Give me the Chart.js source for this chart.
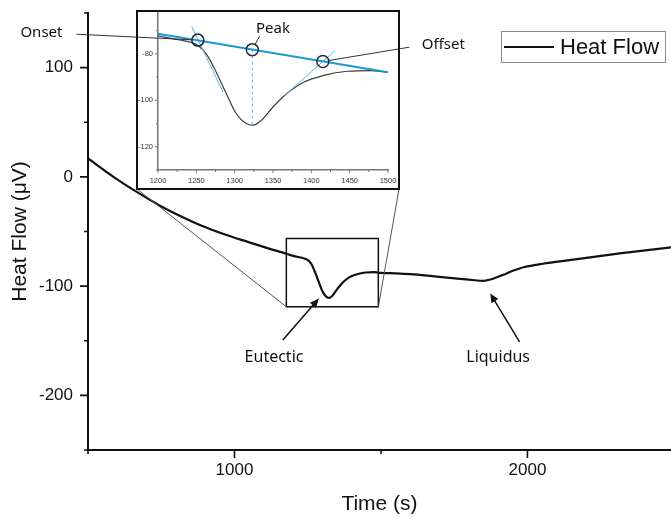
<!DOCTYPE html>
<html>
<head>
<meta charset="utf-8">
<script src="https://cdn.jsdelivr.net/npm/chart.js@4.4.0/dist/chart.umd.min.js"></script>
<style>
  body { margin: 0; background: #fff; }
  #wrap { position: relative; width: 671px; height: 517px; }
  #main { position: absolute; left: 0; top: 0; }
  #inset { position: absolute; left: 136px; top: 10px; background: #fff; }
</style>
</head>
<body>
<div id="wrap">
  <canvas id="main" width="671" height="517"></canvas>
  <canvas id="inset" width="264" height="180"></canvas>
</div>
<script>
// DSC trace, values
const timeS = [500, 560, 620, 680, 760, 820, 890, 960, 1045, 1110, 1177, 1200, 1233, 1244, 1252, 1263, 1276, 1289, 1302, 1315, 1324, 1335, 1350, 1368, 1390, 1416, 1447, 1477, 1500, 1550, 1600, 1690, 1770, 1820, 1847, 1880, 1918, 1950, 1990, 2053, 2143, 2315, 2490];
const heatFlow = [17, 5, -6, -16, -28.5, -36.5, -45, -52, -59.5, -65, -70.3, -72.3, -74.3, -75.2, -76.4, -80, -87.9, -97.1, -105.7, -110, -110.7, -108.6, -102.9, -97.1, -92.2, -89.3, -87.5, -87.2, -87.9, -88.3, -89, -91.3, -93.3, -94.6, -95.2, -93.5, -89.5, -86, -82.5, -79.5, -76.2, -70.1, -64.6];

// main axis ticks
const xMajor = [1000, 2000];
const xMinor = [500, 1500];
const yMajor = [-200, -100, 0, 100];
const yMinor = [-250, -150, -50, 50, 150];

// inset axis ticks
const xMajorIn = [1200, 1250, 1300, 1350, 1400, 1450, 1500];
const xMinorIn = [1225, 1275, 1325, 1375, 1425, 1475];
const yMajorIn = [-120, -100, -80];
const yMinorIn = [-130, -110, -90, -70];

// construction lines in the inset
const baseT = [1200, 1500], baseV = [-71.4, -87.9];
const onsetTanT = [1244, 1285], onsetTanV = [-68.3, -96.5];
const offsetTanT = [1365, 1431], offsetTanV = [-98, -78.6];
const peakT = [1323, 1323], peakV = [-78.2, -110.7];
const markT = [1252, 1323, 1415], markV = [-74.1, -78.2, -83.3];

// zoom box on the main plot
const zoomT = [1177, 1491], zoomV = [-56.4, -118.9];

// annotations
const noteText = ['Eutectic', 'Liquidus'];
const noteAt = [[1135, -165], [1900, -165]];
const arrowFrom = [[1165, -149.4], [1973, -151]];
const arrowTo = [[1288, -111.3], [1873, -106.7]];
const calloutText = ['Onset', 'Offset'];
const calloutAt = [[341, 131.5], [1713, 121.4]];
const calloutFrom = [[460, 130.6], [1597, 118.7]];
const calloutMark = [0, 2];
const peakLabelAt = [1350, -69];
const peakLeadTo = [1332.5, -72.4];

const ink = '#111';
const blue = '#1b98d5';
const thinBlue = '#58b5e5';
const markR = 6;
const noteFont = '"Noto Sans", sans-serif';

Chart.defaults.font.family = '"Liberation Sans", Arial, sans-serif';

const pts = (xs, ys) => xs.map((v, i) => ({ x: v, y: ys[i] }));

let mainChart, insetChart;

function drawTicks(chart, xs, xm, ys, ym, big, small, color, width) {
  const ctx = chart.ctx, sx = chart.scales.x, sy = chart.scales.y;
  const b = chart.chartArea.bottom, l = chart.chartArea.left;
  ctx.save();
  ctx.strokeStyle = color;
  ctx.lineWidth = width;
  ctx.beginPath();
  xs.forEach(v => { const p = sx.getPixelForValue(v); ctx.moveTo(p, b); ctx.lineTo(p, b + big); });
  xm.forEach(v => { const p = sx.getPixelForValue(v); ctx.moveTo(p, b); ctx.lineTo(p, b + small); });
  ys.forEach(v => { const p = sy.getPixelForValue(v); ctx.moveTo(l, p); ctx.lineTo(l - big, p); });
  ym.forEach(v => { const p = sy.getPixelForValue(v); ctx.moveTo(l, p); ctx.lineTo(l - small, p); });
  ctx.stroke();
  ctx.restore();
}

function arrow(ctx, x0, y0, x1, y1) {
  const a = Math.atan2(y1 - y0, x1 - x0), h = 9, w = 4;
  ctx.beginPath();
  ctx.moveTo(x0, y0);
  ctx.lineTo(x1 - h * 0.7 * Math.cos(a), y1 - h * 0.7 * Math.sin(a));
  ctx.stroke();
  ctx.beginPath();
  ctx.moveTo(x1, y1);
  ctx.lineTo(x1 - h * Math.cos(a) + w * Math.sin(a), y1 - h * Math.sin(a) - w * Math.cos(a));
  ctx.lineTo(x1 - h * Math.cos(a) - w * Math.sin(a), y1 - h * Math.sin(a) + w * Math.cos(a));
  ctx.closePath();
  ctx.fill();
}

// leader from a label on the main plot to a circle in the inset, page pixels
function calloutLine(i, inset) {
  const m = mainChart.scales, n = inset.scales, c = inset.canvas;
  const x0 = m.x.getPixelForValue(calloutFrom[i][0]), y0 = m.y.getPixelForValue(calloutFrom[i][1]);
  const k = calloutMark[i];
  const cx = c.offsetLeft + n.x.getPixelForValue(markT[k]);
  const cy = c.offsetTop + n.y.getPixelForValue(markV[k]);
  const d = Math.hypot(cx - x0, cy - y0);
  return [x0, y0, cx - (cx - x0) * markR / d, cy - (cy - y0) * markR / d];
}

const mainDecor = {
  id: 'mainDecor',
  afterDraw(chart) {
    const ctx = chart.ctx, sx = chart.scales.x, sy = chart.scales.y;
    const px = v => sx.getPixelForValue(v), py = v => sy.getPixelForValue(v);
    drawTicks(chart, xMajor, xMinor, yMajor, yMinor, 8, 4, ink, 1.6);

    ctx.save();
    // zoom box
    const rx0 = px(zoomT[0]), rx1 = px(zoomT[1]), ry0 = py(zoomV[0]), ry1 = py(zoomV[1]);
    ctx.strokeStyle = ink;
    ctx.lineWidth = 1.5;
    ctx.strokeRect(rx0, ry0, rx1 - rx0, ry1 - ry0);

    // connectors to the inset frame
    const c = document.getElementById('inset');
    const iy = c.offsetTop + c.height - 1;
    ctx.strokeStyle = '#555';
    ctx.lineWidth = 1;
    ctx.beginPath();
    ctx.moveTo(c.offsetLeft + 1, iy); ctx.lineTo(rx0, ry1);
    ctx.moveTo(c.offsetLeft + c.width - 1, iy); ctx.lineTo(rx1, ry1);
    ctx.stroke();

    // arrows and labels
    ctx.strokeStyle = ink;
    ctx.fillStyle = ink;
    ctx.lineWidth = 1.5;
    arrowFrom.forEach((f, i) => arrow(ctx, px(f[0]), py(f[1]), px(arrowTo[i][0]), py(arrowTo[i][1])));
    ctx.font = '16px ' + noteFont;
    ctx.textAlign = 'center';
    ctx.textBaseline = 'middle';
    noteText.forEach((t, i) => ctx.fillText(t, px(noteAt[i][0]), py(noteAt[i][1])));

    ctx.font = '15px ' + noteFont;
    calloutText.forEach((t, i) => ctx.fillText(t, px(calloutAt[i][0]), py(calloutAt[i][1])));
    if (insetChart) {
      ctx.strokeStyle = '#333';
      ctx.lineWidth = 1;
      ctx.beginPath();
      calloutText.forEach((t, i) => {
        const [a, b, e, f] = calloutLine(i, insetChart);
        ctx.moveTo(a, b); ctx.lineTo(e, f);
      });
      ctx.stroke();
    }

    // legend
    const ds = chart.data.datasets[0];
    const lx = chart.chartArea.right - 170, ly = 31;
    ctx.fillStyle = '#fff';
    ctx.fillRect(lx, ly, 164, 31);
    ctx.strokeStyle = '#8a8a8a';
    ctx.lineWidth = 1;
    ctx.strokeRect(lx + 0.5, ly + 0.5, 164, 31);
    ctx.strokeStyle = ds.borderColor;
    ctx.lineWidth = 2;
    ctx.beginPath();
    ctx.moveTo(lx + 3, ly + 16); ctx.lineTo(lx + 53, ly + 16);
    ctx.stroke();
    ctx.fillStyle = ink;
    ctx.font = '22px "Liberation Sans", Arial, sans-serif';
    ctx.textAlign = 'left';
    ctx.fillText(ds.label, lx + 59, ly + 17);
    ctx.restore();
  }
};

const insetDecor = {
  id: 'insetDecor',
  afterDraw(chart) {
    const ctx = chart.ctx, sx = chart.scales.x, sy = chart.scales.y;
    drawTicks(chart, xMajorIn, xMinorIn, yMajorIn, yMinorIn, 3, 2, '#777', 1);
    ctx.save();
    // peak label
    ctx.fillStyle = ink;
    ctx.font = '15px ' + noteFont;
    ctx.textAlign = 'center';
    ctx.textBaseline = 'middle';
    ctx.fillText('Peak', sx.getPixelForValue(peakLabelAt[0]), sy.getPixelForValue(peakLabelAt[1]));
    const cx = sx.getPixelForValue(markT[1]), cy = sy.getPixelForValue(markV[1]);
    const ex = sx.getPixelForValue(peakLeadTo[0]), ey = sy.getPixelForValue(peakLeadTo[1]);
    const d = Math.hypot(ex - cx, ey - cy);
    ctx.strokeStyle = '#333';
    ctx.lineWidth = 1;
    ctx.beginPath();
    ctx.moveTo(cx + (ex - cx) * markR / d, cy + (ey - cy) * markR / d);
    ctx.lineTo(ex, ey);
    // onset / offset leaders, inside part
    const c = chart.canvas;
    calloutText.forEach((t, i) => {
      const [a, b, e, f] = calloutLine(i, chart);
      ctx.moveTo(a - c.offsetLeft, b - c.offsetTop);
      ctx.lineTo(e - c.offsetLeft, f - c.offsetTop);
    });
    ctx.stroke();
    // frame
    ctx.strokeStyle = ink;
    ctx.lineWidth = 2;
    ctx.strokeRect(1, 1, c.width - 2, c.height - 2);
    ctx.restore();
  }
};

mainChart = new Chart(document.getElementById('main'), {
  type: 'line',
  data: {
    datasets: [{
      label: 'Heat Flow',
      data: pts(timeS, heatFlow),
      borderColor: ink,
      borderWidth: 2.2,
      pointRadius: 0,
      cubicInterpolationMode: 'monotone'
    }]
  },
  options: {
    responsive: false,
    animation: false,
    layout: { autoPadding: false, padding: { top: 13, right: 0, left: 0, bottom: 0 } },
    plugins: { legend: { display: false }, tooltip: { enabled: false } },
    scales: {
      x: {
        type: 'linear', min: 500, max: 2490,
        afterBuildTicks: s => { s.ticks = xMajor.map(v => ({ value: v })); },
        afterFit: s => { s.height = 67; s.paddingLeft = 0; s.paddingRight = 0; },
        grid: { display: false, drawTicks: false },
        border: { display: true, color: ink, width: 2 },
        ticks: { color: ink, font: { size: 17 }, padding: 10, maxRotation: 0, callback: v => String(v) },
        title: { display: true, text: 'Time (s)', color: ink, font: { size: 21 }, padding: { top: 0, bottom: 0 } }
      },
      y: {
        min: -250, max: 150,
        afterBuildTicks: s => { s.ticks = yMajor.map(v => ({ value: v })); },
        afterFit: s => { s.width = 88; s.paddingTop = 0; s.paddingBottom = 0; },
        grid: { display: false, drawTicks: false },
        border: { display: true, color: ink, width: 2 },
        ticks: { color: ink, font: { size: 17 }, padding: 15, callback: v => String(v) },
        title: { display: true, text: 'Heat Flow (μV)', color: ink, font: { size: 21 }, padding: { top: 8, bottom: 0 } }
      }
    }
  },
  plugins: [mainDecor]
});

insetChart = new Chart(document.getElementById('inset'), {
  type: 'line',
  data: {
    datasets: [
      { data: pts(markT, markV), showLine: false, pointRadius: markR, pointBorderWidth: 1.5,
        pointBorderColor: '#1d2b3a', pointBackgroundColor: 'rgba(0,0,0,0)', order: 0 },
      { data: pts(baseT, baseV), borderColor: blue, borderWidth: 2, pointRadius: 0, order: 1 },
      { data: pts(onsetTanT, onsetTanV), borderColor: thinBlue, borderWidth: 1, pointRadius: 0, order: 1 },
      { data: pts(offsetTanT, offsetTanV), borderColor: thinBlue, borderWidth: 1, pointRadius: 0, order: 1 },
      { data: pts(peakT, peakV), borderColor: thinBlue, borderWidth: 1, borderDash: [3, 3], pointRadius: 0, order: 1 },
      { data: pts(timeS, heatFlow), borderColor: '#3d3d3d', borderWidth: 1.2, pointRadius: 0,
        cubicInterpolationMode: 'monotone', order: 2 }
    ]
  },
  options: {
    responsive: false,
    animation: false,
    layout: { autoPadding: false, padding: { top: 2, right: 12, left: 0, bottom: 0 } },
    plugins: { legend: { display: false }, tooltip: { enabled: false } },
    scales: {
      x: {
        type: 'linear', min: 1200, max: 1500,
        afterBuildTicks: s => { s.ticks = xMajorIn.map(v => ({ value: v })); },
        afterFit: s => { s.height = 20; s.paddingLeft = 0; s.paddingRight = 0; },
        grid: { display: false, drawTicks: false },
        border: { display: true, color: '#777', width: 1.5 },
        ticks: { color: '#333', font: { size: 7.5 }, padding: 6, maxRotation: 0, callback: v => String(v) }
      },
      y: {
        min: -130, max: -62,
        afterBuildTicks: s => { s.ticks = yMajorIn.map(v => ({ value: v })); },
        afterFit: s => { s.width = 22; s.paddingTop = 0; s.paddingBottom = 0; },
        grid: { display: false, drawTicks: false },
        border: { display: true, color: '#777', width: 1.5 },
        ticks: { color: '#333', font: { size: 7.5 }, padding: 5, callback: v => String(v) }
      }
    }
  },
  plugins: [insetDecor]
});

mainChart.draw();
</script>
</body>
</html>
